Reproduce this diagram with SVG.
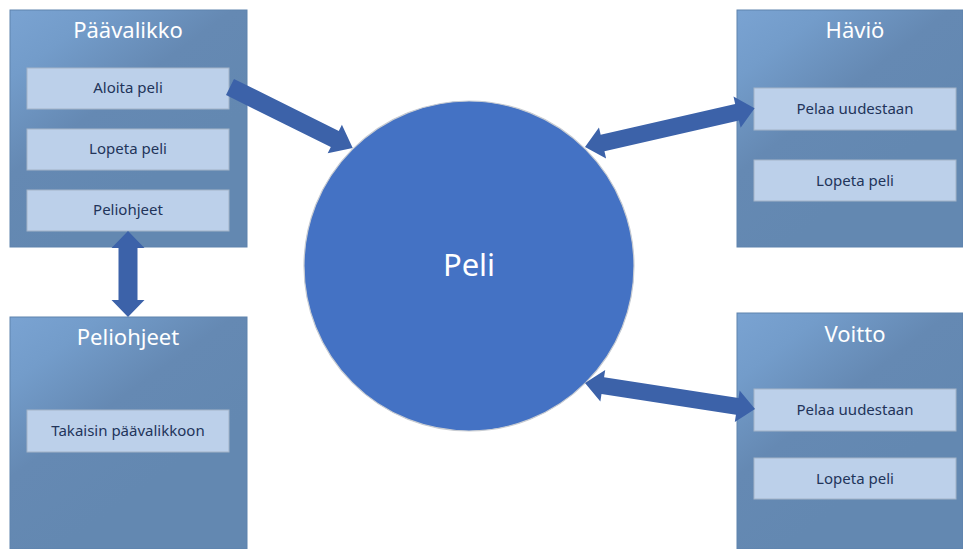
<svg xmlns="http://www.w3.org/2000/svg" width="963" height="549" viewBox="0 0 963 549">
<defs>
<linearGradient id="pg" x1="0" y1="0" x2="0.55" y2="0.75">
<stop offset="0" stop-color="#7aa3d2"/>
<stop offset="0.25" stop-color="#739cca"/>
<stop offset="0.6" stop-color="#6589b3"/>
<stop offset="1" stop-color="#6388b1"/>
</linearGradient>
<style>
.panel{fill:url(#pg);stroke:#5f83ad;stroke-width:1}
.btn{fill:#bcd0ea;stroke:#a3b3c7;stroke-width:1}
.bt{font-family:"Noto Sans","Open Sans",sans-serif;font-size:15px;fill:#22345a;text-anchor:middle}
.tt{font-family:"Noto Sans","Open Sans",sans-serif;font-size:22px;fill:#ffffff;text-anchor:middle}
.arr{fill:#3c62a9}
</style>
</defs>
<rect width="963" height="549" fill="#ffffff"/>

<g id="paavalikko">
<rect class="panel" x="10" y="10" width="237" height="237"/>
<text class="tt" x="128" y="38">Päävalikko</text>
<rect class="btn" x="27" y="68" width="202" height="41"/>
<text class="bt" x="128" y="93">Aloita peli</text>
<rect class="btn" x="27" y="129" width="202" height="41"/>
<text class="bt" x="128" y="154">Lopeta peli</text>
<rect class="btn" x="27" y="190" width="202" height="41"/>
<text class="bt" x="128" y="215">Peliohjeet</text>
</g>

<g id="peliohjeet">
<rect class="panel" x="10" y="317" width="237" height="232"/>
<text class="tt" x="128" y="345">Peliohjeet</text>
<rect class="btn" x="27" y="410" width="202" height="42"/>
<text class="bt" x="128" y="436">Takaisin päävalikkoon</text>
</g>

<g id="havio">
<rect class="panel" x="737" y="10" width="226" height="237"/>
<text class="tt" x="855" y="38">Häviö</text>
<rect class="btn" x="754" y="88" width="202" height="42"/>
<text class="bt" x="855" y="114">Pelaa uudestaan</text>
<rect class="btn" x="754" y="160" width="202" height="41"/>
<text class="bt" x="855" y="186">Lopeta peli</text>
</g>

<g id="voitto">
<rect class="panel" x="737" y="313" width="226" height="236"/>
<text class="tt" x="855" y="342">Voitto</text>
<rect class="btn" x="754" y="389" width="202" height="42"/>
<text class="bt" x="855" y="415">Pelaa uudestaan</text>
<rect class="btn" x="754" y="458" width="202" height="41"/>
<text class="bt" x="855" y="484">Lopeta peli</text>
</g>

<g id="peli">
<circle cx="469" cy="266" r="165" fill="#4472c4" stroke="#c8ccd2" stroke-width="1.2"/>
<text x="469" y="276" font-family="'Noto Sans','Open Sans',sans-serif" font-size="31" fill="#ffffff" text-anchor="middle">Peli</text>
</g>

<g id="connectors">
<path class="arr" transform="translate(230,87) rotate(26.4)" d="M0,-9 L117,-9 L117,-16 L137,0 L117,16 L117,9 L0,9 Z"/>
<path class="arr" transform="translate(128,231) rotate(90)" d="M0,0 L17,-16.5 L17,-9.5 L69,-9.5 L69,-16.5 L86,0 L69,16.5 L69,9.5 L17,9.5 L17,16.5 Z"/>
<path class="arr" transform="translate(585,147) rotate(-12.9)" d="M0,0 L18,-16 L18,-8.5 L156,-8.5 L156,-16 L174,0 L156,16 L156,8.5 L18,8.5 L18,16 Z"/>
<path class="arr" transform="translate(585,383) rotate(8.7)" d="M0,0 L18,-16 L18,-8.5 L154,-8.5 L154,-16 L172,0 L154,16 L154,8.5 L18,8.5 L18,16 Z"/>
</g>
</svg>
